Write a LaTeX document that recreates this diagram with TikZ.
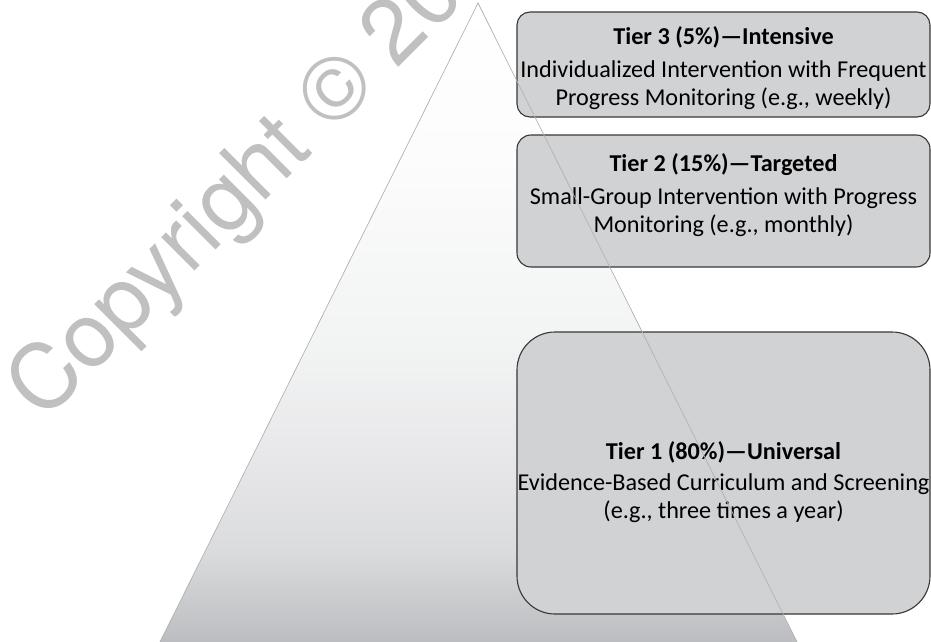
\documentclass[tikz,border=0pt]{standalone}
\usepackage{fontspec}
\setmainfont{Carlito}
\newfontfamily\markfont{TeX Gyre Heros}
\usetikzlibrary{positioning}
\definecolor{boxgray}{RGB}{209,210,212}
\definecolor{edgegray}{RGB}{178,178,180}
\definecolor{markgray}{RGB}{192,192,192}
\definecolor{basegray}{RGB}{188,189,192}
\pgfdeclareverticalshading{pyramidshade}{100bp}{color(0bp)=(basegray); color(25bp)=(basegray);
  color(32bp)=(rgb,255:red,218;green,219;blue,221); color(40bp)=(rgb,255:red,232;green,232;blue,234);
  color(48bp)=(rgb,255:red,242;green,243;blue,243); color(63bp)=(rgb,255:red,252;green,252;blue,252);
  color(75bp)=(white); color(100bp)=(white)}

\begin{document}
\begin{tikzpicture}[x=1pt,y=-1pt,
  tierbox/.style={draw=black!78,line width=1.1pt,fill=boxgray,minimum width=413pt,inner sep=0pt},
  tiertext/.style={align=center,inner sep=0pt,font=\fontsize{24.2}{28.5}\selectfont}]
\useasboundingbox (0,0) rectangle (931,642);
\clip (0,0) rectangle (931,642);
% pyramid
\shade [shading=pyramidshade] (478,3)--(160,642)--(797,642)--cycle;
\node [rotate=45,anchor=base west,text=markgray,inner sep=0pt,font=\markfont\fontsize{90}{90}\selectfont] (mark) at (43,423) {Copyright © 20};
% tiers
\node [tierbox,rounded corners=13pt,minimum height=105pt] (t3) at (723.5,64.5) {};
\node [tierbox,rounded corners=14pt,minimum height=132pt] (t2) at (723.5,201) {};
\node [tierbox,rounded corners=38pt,minimum height=282pt] (t1) at (723.5,473) {};
\node [tiertext,below=15pt of t3.north] (t3text) {\textbf{Tier 3 (5\%)---Intensive}\\[4pt]
  Individualized Intervention with Frequent\\ Progress Monitoring (e.g., weekly)};
\node [tiertext,below=19pt of t2.north] (t2text) {\textbf{Tier 2 (15\%)---Targeted}\\[4pt]
  Small-Group Intervention with Progress\\ Monitoring (e.g., monthly)};
\node [tiertext,below=110pt of t1.north] (t1text) {\textbf{Tier 1 (80\%)---Universal}\\[2pt]
  Evidence-Based Curriculum and Screening\\ (e.g., three times a year)};
\draw [edgegray,line width=0.7pt] (160,642)--(478,3)--(797,642);
\end{tikzpicture}
\end{document}
